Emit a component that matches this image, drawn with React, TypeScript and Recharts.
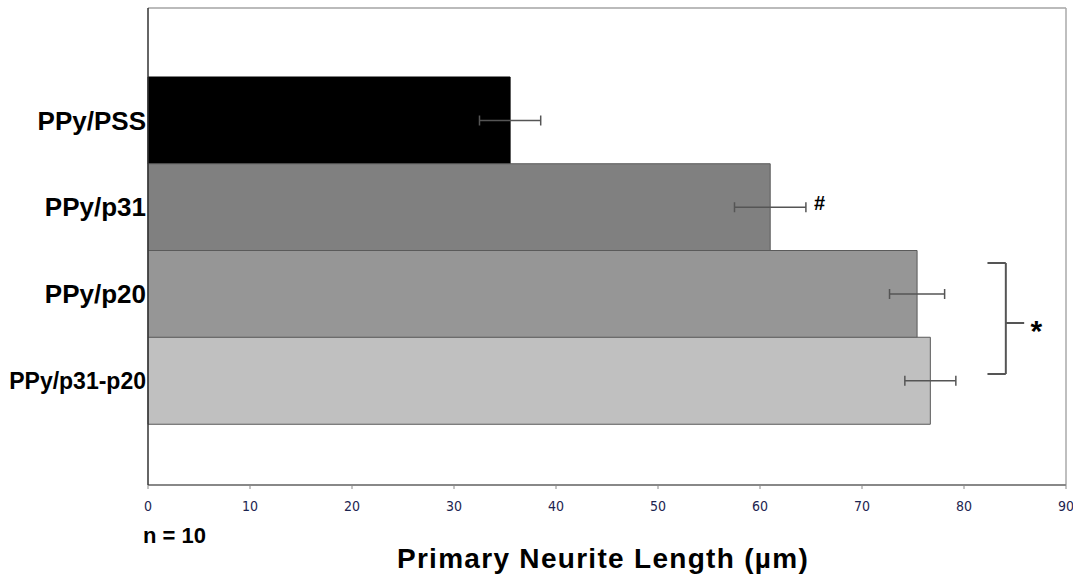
import { BarChart, Bar, XAxis, YAxis, ErrorBar, Cell } from 'recharts'

const groups = ['PPy/PSS', 'PPy/p31', 'PPy/p20', 'PPy/p31-p20']
const means = [35.5, 61.0, 75.4, 76.7]
const errors = [3.0, 3.5, 2.7, 2.5]
const fills = ['#000000', '#808080', '#969696', '#c0c0c0']
const xTicks = [0, 10, 20, 30, 40, 50, 60, 70, 80, 90]

const data = groups.map((name, i) => ({ name, value: means[i], err: errors[i] }))

const W = 1073
const H = 579
const plotLeft = 148
const plotRight = 1066
const plotTop = 8
const plotBottom = 485
const xAxisH = 30
const xMax = 90
const px = (v: number) => plotLeft + (v / xMax) * (plotRight - plotLeft)

function GroupTick(props: any) {
  const { x, y, payload } = props
  const small = payload.value === 'PPy/p31-p20'
  return (
    <text
      x={x}
      y={y}
      dy="0.36em"
      textAnchor="end"
      fontFamily="Liberation Sans, Arial, sans-serif"
      fontWeight="bold"
      fontSize={small ? 23 : 26}
      fill="#000"
    >
      {payload.value}
    </text>
  )
}

export default function App() {
  return (
    <div style={{ position: 'absolute', left: 0, top: 0, width: W, height: H, background: '#fff' }}>
      <svg
        width={W}
        height={H}
        style={{ position: 'absolute', left: 0, top: 0 }}
      >
        <line x1={plotLeft} y1={plotTop} x2={plotRight} y2={plotTop} stroke="#bbb" strokeWidth={2} />
        <line x1={plotRight} y1={plotTop} x2={plotRight} y2={plotBottom} stroke="#aaa" strokeWidth={1.5} />
      </svg>
      <div style={{ position: 'absolute', left: 0, top: 0 }}>
        <BarChart
          width={W}
          height={H}
          data={data}
          layout="vertical"
          barCategoryGap={0}
          margin={{ top: plotTop, right: W - plotRight, left: 0, bottom: H - plotBottom - xAxisH }}
        >
          <XAxis
            type="number"
            domain={[0, xMax]}
            ticks={xTicks}
            tickSize={4}
            tickMargin={12}
            axisLine={{ stroke: '#888', strokeWidth: 2 }}
            tickLine={{ stroke: '#888' }}
            tick={{ fontSize: 14, fill: '#1c2450', fontFamily: 'Liberation Sans Narrow, DejaVu Sans Condensed, sans-serif' }}
            height={xAxisH}
          />
          <YAxis
            type="category"
            dataKey="name"
            width={plotLeft}
            padding={{ top: 69, bottom: 61 }}
            tickLine={false}
            tickSize={0}
            tickMargin={2}
            axisLine={{ stroke: '#333', strokeWidth: 1.5 }}
            tick={<GroupTick />}
            interval={0}
          />
          <Bar dataKey="value" isAnimationActive={false} strokeWidth={1}>
            {data.map((d, i) => (
              <Cell key={d.name} fill={fills[i]} stroke={i === 0 ? '#000' : '#5a5a5a'} />
            ))}
            <ErrorBar dataKey="err" direction="x" width={5} stroke="#555" strokeWidth={1.5} />
          </Bar>
        </BarChart>
      </div>
      <svg
        width={W}
        height={H}
        style={{ position: 'absolute', left: 0, top: 0, pointerEvents: 'none' }}
      >
        <text x={px(65.3)} y={210} fontFamily="Liberation Sans, Arial, sans-serif" fontWeight="bold" fontSize={20} fill="#000">
          #
        </text>
        <g stroke="#555" strokeWidth={2} fill="none">
          <line x1={px(82.3)} y1={263} x2={px(84.1)} y2={263} />
          <line x1={px(84.1)} y1={263} x2={px(84.1)} y2={374} />
          <line x1={px(82.3)} y1={374} x2={px(84.1)} y2={374} />
          <line x1={px(84.1)} y1={323} x2={px(85.9)} y2={323} />
        </g>
        <text x={px(87.1)} y={341} fontFamily="Liberation Sans, Arial, sans-serif" fontWeight="bold" fontSize={30} fill="#000" textAnchor="middle">
          *
        </text>
        <text x={143} y={543} fontFamily="Liberation Sans, Arial, sans-serif" fontWeight="bold" fontSize={22} fill="#000">
          n = 10
        </text>
        <text x={603} y={568} fontFamily="Liberation Sans, Arial, sans-serif" fontWeight="bold" fontSize={28} letterSpacing={1.3} fill="#000" textAnchor="middle">
          Primary Neurite Length (µm)
        </text>
      </svg>
    </div>
  )
}
